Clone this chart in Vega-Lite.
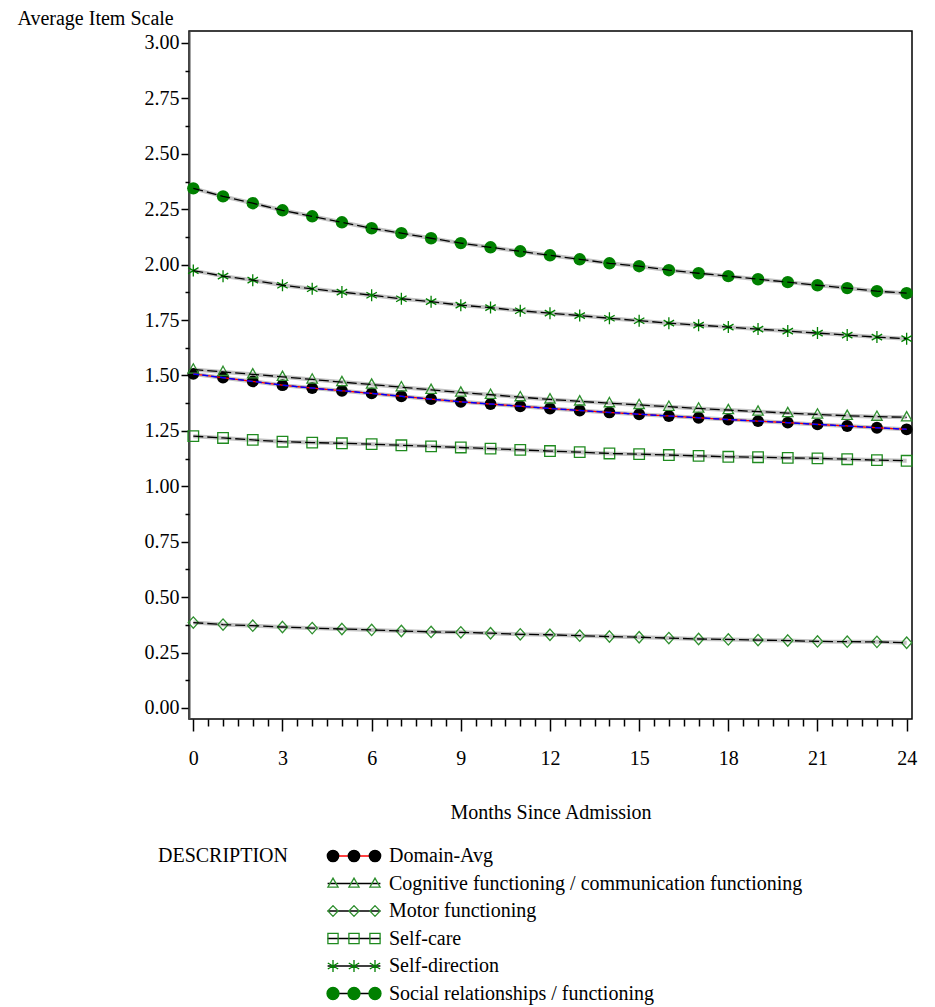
{
  "$schema": "https://vega.github.io/schema/vega-lite/v6.json",
  "width": 723,
  "height": 688,
  "autosize": {"type": "none"},
  "padding": {"left": 189, "top": 31, "right": 23, "bottom": 288},
  "background": "white",
  "config": {
    "font": "Liberation Serif",
    "view": {"stroke": "#000000", "strokeWidth": 1.5},
    "axis": {
      "labelFont": "Liberation Serif",
      "labelFontSize": 20,
      "labelColor": "#000000",
      "titleFont": "Liberation Serif",
      "titleFontSize": 20,
      "titleFontWeight": "normal",
      "titleColor": "#000000",
      "tickColor": "#000000",
      "tickWidth": 1.5,
      "grid": false
    },
    "legend": {
      "labelFont": "Liberation Serif",
      "labelFontSize": 20,
      "labelColor": "#000000",
      "titleFont": "Liberation Serif",
      "titleFontSize": 20,
      "titleFontWeight": "normal",
      "titleColor": "#000000",
      "labelLimit": 600
    }
  },
  "data": {
    "values": [
      {"series": "Domain-Avg", "month": 0, "value": 1.507},
      {"series": "Domain-Avg", "month": 1, "value": 1.490},
      {"series": "Domain-Avg", "month": 2, "value": 1.473},
      {"series": "Domain-Avg", "month": 3, "value": 1.456},
      {"series": "Domain-Avg", "month": 4, "value": 1.443},
      {"series": "Domain-Avg", "month": 5, "value": 1.431},
      {"series": "Domain-Avg", "month": 6, "value": 1.419},
      {"series": "Domain-Avg", "month": 7, "value": 1.406},
      {"series": "Domain-Avg", "month": 8, "value": 1.393},
      {"series": "Domain-Avg", "month": 9, "value": 1.381},
      {"series": "Domain-Avg", "month": 10, "value": 1.371},
      {"series": "Domain-Avg", "month": 11, "value": 1.361},
      {"series": "Domain-Avg", "month": 12, "value": 1.351},
      {"series": "Domain-Avg", "month": 13, "value": 1.342},
      {"series": "Domain-Avg", "month": 14, "value": 1.333},
      {"series": "Domain-Avg", "month": 15, "value": 1.325},
      {"series": "Domain-Avg", "month": 16, "value": 1.317},
      {"series": "Domain-Avg", "month": 17, "value": 1.309},
      {"series": "Domain-Avg", "month": 18, "value": 1.301},
      {"series": "Domain-Avg", "month": 19, "value": 1.294},
      {"series": "Domain-Avg", "month": 20, "value": 1.287},
      {"series": "Domain-Avg", "month": 21, "value": 1.279},
      {"series": "Domain-Avg", "month": 22, "value": 1.272},
      {"series": "Domain-Avg", "month": 23, "value": 1.264},
      {"series": "Domain-Avg", "month": 24, "value": 1.257},
      {"series": "Cognitive functioning / communication functioning", "month": 0, "value": 1.527},
      {"series": "Cognitive functioning / communication functioning", "month": 1, "value": 1.516},
      {"series": "Cognitive functioning / communication functioning", "month": 2, "value": 1.505},
      {"series": "Cognitive functioning / communication functioning", "month": 3, "value": 1.494},
      {"series": "Cognitive functioning / communication functioning", "month": 4, "value": 1.482},
      {"series": "Cognitive functioning / communication functioning", "month": 5, "value": 1.470},
      {"series": "Cognitive functioning / communication functioning", "month": 6, "value": 1.459},
      {"series": "Cognitive functioning / communication functioning", "month": 7, "value": 1.447},
      {"series": "Cognitive functioning / communication functioning", "month": 8, "value": 1.435},
      {"series": "Cognitive functioning / communication functioning", "month": 9, "value": 1.423},
      {"series": "Cognitive functioning / communication functioning", "month": 10, "value": 1.413},
      {"series": "Cognitive functioning / communication functioning", "month": 11, "value": 1.402},
      {"series": "Cognitive functioning / communication functioning", "month": 12, "value": 1.392},
      {"series": "Cognitive functioning / communication functioning", "month": 13, "value": 1.383},
      {"series": "Cognitive functioning / communication functioning", "month": 14, "value": 1.375},
      {"series": "Cognitive functioning / communication functioning", "month": 15, "value": 1.367},
      {"series": "Cognitive functioning / communication functioning", "month": 16, "value": 1.359},
      {"series": "Cognitive functioning / communication functioning", "month": 17, "value": 1.351},
      {"series": "Cognitive functioning / communication functioning", "month": 18, "value": 1.344},
      {"series": "Cognitive functioning / communication functioning", "month": 19, "value": 1.337},
      {"series": "Cognitive functioning / communication functioning", "month": 20, "value": 1.330},
      {"series": "Cognitive functioning / communication functioning", "month": 21, "value": 1.324},
      {"series": "Cognitive functioning / communication functioning", "month": 22, "value": 1.318},
      {"series": "Cognitive functioning / communication functioning", "month": 23, "value": 1.314},
      {"series": "Cognitive functioning / communication functioning", "month": 24, "value": 1.311},
      {"series": "Motor functioning", "month": 0, "value": 0.385},
      {"series": "Motor functioning", "month": 1, "value": 0.376},
      {"series": "Motor functioning", "month": 2, "value": 0.371},
      {"series": "Motor functioning", "month": 3, "value": 0.365},
      {"series": "Motor functioning", "month": 4, "value": 0.360},
      {"series": "Motor functioning", "month": 5, "value": 0.356},
      {"series": "Motor functioning", "month": 6, "value": 0.352},
      {"series": "Motor functioning", "month": 7, "value": 0.347},
      {"series": "Motor functioning", "month": 8, "value": 0.343},
      {"series": "Motor functioning", "month": 9, "value": 0.341},
      {"series": "Motor functioning", "month": 10, "value": 0.337},
      {"series": "Motor functioning", "month": 11, "value": 0.332},
      {"series": "Motor functioning", "month": 12, "value": 0.330},
      {"series": "Motor functioning", "month": 13, "value": 0.326},
      {"series": "Motor functioning", "month": 14, "value": 0.322},
      {"series": "Motor functioning", "month": 15, "value": 0.319},
      {"series": "Motor functioning", "month": 16, "value": 0.315},
      {"series": "Motor functioning", "month": 17, "value": 0.311},
      {"series": "Motor functioning", "month": 18, "value": 0.309},
      {"series": "Motor functioning", "month": 19, "value": 0.306},
      {"series": "Motor functioning", "month": 20, "value": 0.304},
      {"series": "Motor functioning", "month": 21, "value": 0.300},
      {"series": "Motor functioning", "month": 22, "value": 0.299},
      {"series": "Motor functioning", "month": 23, "value": 0.298},
      {"series": "Motor functioning", "month": 24, "value": 0.294},
      {"series": "Self-care", "month": 0, "value": 1.226},
      {"series": "Self-care", "month": 1, "value": 1.218},
      {"series": "Self-care", "month": 2, "value": 1.209},
      {"series": "Self-care", "month": 3, "value": 1.201},
      {"series": "Self-care", "month": 4, "value": 1.197},
      {"series": "Self-care", "month": 5, "value": 1.194},
      {"series": "Self-care", "month": 6, "value": 1.190},
      {"series": "Self-care", "month": 7, "value": 1.185},
      {"series": "Self-care", "month": 8, "value": 1.180},
      {"series": "Self-care", "month": 9, "value": 1.175},
      {"series": "Self-care", "month": 10, "value": 1.170},
      {"series": "Self-care", "month": 11, "value": 1.164},
      {"series": "Self-care", "month": 12, "value": 1.159},
      {"series": "Self-care", "month": 13, "value": 1.154},
      {"series": "Self-care", "month": 14, "value": 1.148},
      {"series": "Self-care", "month": 15, "value": 1.145},
      {"series": "Self-care", "month": 16, "value": 1.141},
      {"series": "Self-care", "month": 17, "value": 1.137},
      {"series": "Self-care", "month": 18, "value": 1.133},
      {"series": "Self-care", "month": 19, "value": 1.131},
      {"series": "Self-care", "month": 20, "value": 1.128},
      {"series": "Self-care", "month": 21, "value": 1.126},
      {"series": "Self-care", "month": 22, "value": 1.122},
      {"series": "Self-care", "month": 23, "value": 1.118},
      {"series": "Self-care", "month": 24, "value": 1.115},
      {"series": "Self-direction", "month": 0, "value": 1.973},
      {"series": "Self-direction", "month": 1, "value": 1.948},
      {"series": "Self-direction", "month": 2, "value": 1.930},
      {"series": "Self-direction", "month": 3, "value": 1.907},
      {"series": "Self-direction", "month": 4, "value": 1.891},
      {"series": "Self-direction", "month": 5, "value": 1.876},
      {"series": "Self-direction", "month": 6, "value": 1.862},
      {"series": "Self-direction", "month": 7, "value": 1.846},
      {"series": "Self-direction", "month": 8, "value": 1.833},
      {"series": "Self-direction", "month": 9, "value": 1.817},
      {"series": "Self-direction", "month": 10, "value": 1.806},
      {"series": "Self-direction", "month": 11, "value": 1.792},
      {"series": "Self-direction", "month": 12, "value": 1.781},
      {"series": "Self-direction", "month": 13, "value": 1.770},
      {"series": "Self-direction", "month": 14, "value": 1.758},
      {"series": "Self-direction", "month": 15, "value": 1.747},
      {"series": "Self-direction", "month": 16, "value": 1.736},
      {"series": "Self-direction", "month": 17, "value": 1.727},
      {"series": "Self-direction", "month": 18, "value": 1.718},
      {"series": "Self-direction", "month": 19, "value": 1.709},
      {"series": "Self-direction", "month": 20, "value": 1.700},
      {"series": "Self-direction", "month": 21, "value": 1.691},
      {"series": "Self-direction", "month": 22, "value": 1.682},
      {"series": "Self-direction", "month": 23, "value": 1.673},
      {"series": "Self-direction", "month": 24, "value": 1.666},
      {"series": "Social relationships / functioning", "month": 0, "value": 2.344},
      {"series": "Social relationships / functioning", "month": 1, "value": 2.308},
      {"series": "Social relationships / functioning", "month": 2, "value": 2.277},
      {"series": "Social relationships / functioning", "month": 3, "value": 2.245},
      {"series": "Social relationships / functioning", "month": 4, "value": 2.218},
      {"series": "Social relationships / functioning", "month": 5, "value": 2.191},
      {"series": "Social relationships / functioning", "month": 6, "value": 2.164},
      {"series": "Social relationships / functioning", "month": 7, "value": 2.142},
      {"series": "Social relationships / functioning", "month": 8, "value": 2.119},
      {"series": "Social relationships / functioning", "month": 9, "value": 2.097},
      {"series": "Social relationships / functioning", "month": 10, "value": 2.078},
      {"series": "Social relationships / functioning", "month": 11, "value": 2.060},
      {"series": "Social relationships / functioning", "month": 12, "value": 2.042},
      {"series": "Social relationships / functioning", "month": 13, "value": 2.024},
      {"series": "Social relationships / functioning", "month": 14, "value": 2.006},
      {"series": "Social relationships / functioning", "month": 15, "value": 1.993},
      {"series": "Social relationships / functioning", "month": 16, "value": 1.975},
      {"series": "Social relationships / functioning", "month": 17, "value": 1.961},
      {"series": "Social relationships / functioning", "month": 18, "value": 1.948},
      {"series": "Social relationships / functioning", "month": 19, "value": 1.934},
      {"series": "Social relationships / functioning", "month": 20, "value": 1.921},
      {"series": "Social relationships / functioning", "month": 21, "value": 1.907},
      {"series": "Social relationships / functioning", "month": 22, "value": 1.894},
      {"series": "Social relationships / functioning", "month": 23, "value": 1.880},
      {"series": "Social relationships / functioning", "month": 24, "value": 1.871}
    ]
  },
  "resolve": {"axis": {"x": "independent", "y": "independent"}},
  "layer": [
    {
      "mark": {"type": "line", "stroke": "#c2c2c2", "strokeWidth": 4},
      "encoding": {
        "x": {
          "field": "month", "type": "quantitative",
          "scale": {"domain": [-0.145, 24.18], "nice": false, "zero": false},
          "axis": {
            "values": [0, 3, 6, 9, 12, 15, 18, 21, 24],
            "format": "d",
            "tickSize": 12,
            "labelPadding": 17,
            "domain": false,
            "title": "Months Since Admission",
            "titleY": 93,
            "titleBaseline": "middle"
          }
        },
        "y": {
          "field": "value", "type": "quantitative",
          "scale": {"domain": [-0.05, 3.054], "nice": false, "zero": false},
          "axis": {
            "values": [0, 0.25, 0.5, 0.75, 1, 1.25, 1.5, 1.75, 2, 2.25, 2.5, 2.75, 3],
            "format": ".2f",
            "tickSize": 8,
            "labelPadding": 2,
            "domain": true,
            "domainColor": "#4a4a4a",
            "domainWidth": 2,
            "title": "Average Item Scale",
            "titleAngle": 0,
            "titleAlign": "left",
            "titleBaseline": "middle",
            "titleX": -172,
            "titleY": -13
          }
        },
        "detail": {"field": "series", "type": "nominal"}
      }
    },
    {
      "transform": [{"filter": "datum.series === 'Domain-Avg'"}],
      "mark": {"type": "point", "shape": "circle", "filled": true, "fill": "#000000", "size": 140, "opacity": 1},
      "encoding": {
        "x": {
          "field": "month", "type": "quantitative",
          "axis": {
            "orient": "bottom",
            "values": [0.5, 1, 1.5, 2, 2.5, 3.5, 4, 4.5, 5, 5.5, 6.5, 7, 7.5, 8, 8.5, 9.5, 10, 10.5, 11, 11.5, 12.5, 13, 13.5, 14, 14.5, 15.5, 16, 16.5, 17, 17.5, 18.5, 19, 19.5, 20, 20.5, 21.5, 22, 22.5, 23, 23.5],
            "tickSize": 7,
            "labels": false,
            "domain": false,
            "title": null
          }
        },
        "y": {
          "field": "value", "type": "quantitative",
          "axis": {
            "orient": "left",
            "values": [0.125, 0.375, 0.625, 0.875, 1.125, 1.375, 1.625, 1.875, 2.125, 2.375, 2.625, 2.875],
            "tickSize": 4,
            "labels": false,
            "domain": false,
            "title": null
          }
        }
      }
    },
    {
      "transform": [{"filter": "datum.series === 'Cognitive functioning / communication functioning'"}],
      "mark": {"type": "point", "shape": "M0,-0.95L0.87,0.6L-0.87,0.6Z", "filled": false, "stroke": "#2f8f2f", "strokeWidth": 1.3, "size": 144, "opacity": 1},
      "encoding": {
        "x": {"field": "month", "type": "quantitative", "axis": null},
        "y": {"field": "value", "type": "quantitative", "axis": null}
      }
    },
    {
      "transform": [{"filter": "datum.series === 'Motor functioning'"}],
      "mark": {"type": "point", "shape": "M0,-0.95L0.85,0L0,0.95L-0.85,0Z", "filled": false, "stroke": "#2f8f2f", "strokeWidth": 1.3, "size": 144, "opacity": 1},
      "encoding": {
        "x": {"field": "month", "type": "quantitative", "axis": null},
        "y": {"field": "value", "type": "quantitative", "axis": null}
      }
    },
    {
      "transform": [{"filter": "datum.series === 'Self-care'"}],
      "mark": {"type": "point", "shape": "M-0.88,-0.88H0.88V0.88H-0.88Z", "filled": false, "stroke": "#1f8a1f", "strokeWidth": 1.3, "size": 144, "opacity": 1},
      "encoding": {
        "x": {"field": "month", "type": "quantitative", "axis": null},
        "y": {"field": "value", "type": "quantitative", "axis": null}
      }
    },
    {
      "transform": [{"filter": "datum.series === 'Self-direction'"}],
      "mark": {"type": "point", "shape": "M0,-1V1M-0.87,-0.5L0.87,0.5M-0.87,0.5L0.87,-0.5", "filled": false, "stroke": "#008000", "strokeWidth": 1.3, "size": 144, "opacity": 1},
      "encoding": {
        "x": {"field": "month", "type": "quantitative", "axis": null},
        "y": {"field": "value", "type": "quantitative", "axis": null}
      }
    },
    {
      "transform": [{"filter": "datum.series === 'Social relationships / functioning'"}],
      "mark": {"type": "point", "shape": "circle", "filled": true, "fill": "#008000", "size": 155, "opacity": 1},
      "encoding": {
        "x": {"field": "month", "type": "quantitative", "axis": null},
        "y": {"field": "value", "type": "quantitative", "axis": null}
      }
    },
    {
      "mark": {"type": "line", "strokeWidth": 1.3},
      "encoding": {
        "x": {"field": "month", "type": "quantitative", "axis": null},
        "y": {"field": "value", "type": "quantitative", "axis": null},
        "color": {
          "field": "series", "type": "nominal",
          "sort": ["Domain-Avg", "Cognitive functioning / communication functioning", "Motor functioning", "Self-care", "Self-direction", "Social relationships / functioning"],
          "scale": {"range": ["#ff0000", "#000000", "#000000", "#000000", "#000000", "#000000"]},
          "legend": {
            "orient": "none",
            "legendX": -31,
            "legendY": 815,
            "title": "DESCRIPTION",
            "titleColor": "transparent",
            "titleOrient": "left",
            "titleAnchor": "start",
            "titlePadding": 55,
            "symbolType": "M-4.4,0L4.4,0",
            "symbolSize": 144,
            "symbolStrokeWidth": 1.5,
            "labelOffset": 25,
            "labelColor": "transparent",
            "rowPadding": 7.5
          }
        },
        "strokeDash": {
          "field": "series", "type": "nominal",
          "sort": ["Domain-Avg", "Cognitive functioning / communication functioning", "Motor functioning", "Self-care", "Self-direction", "Social relationships / functioning"],
          "scale": {"range": [[1, 0], [10, 4], [10, 4], [10, 4], [10, 4], [10, 4]]},
          "legend": null
        }
      }
    },
    {
      "transform": [{"filter": "datum.series === 'Domain-Avg'"}],
      "mark": {"type": "line", "stroke": "#0000ff", "strokeWidth": 1.5, "strokeDash": [6, 3]},
      "encoding": {
        "x": {"field": "month", "type": "quantitative", "axis": null},
        "y": {"field": "value", "type": "quantitative", "axis": null}
      }
    },
    {
      "transform": [{"filter": "false"}],
      "mark": {"type": "point", "strokeWidth": 1.3, "opacity": 1},
      "encoding": {
        "fill": {
          "field": "series", "type": "nominal",
          "scale": {
            "domain": ["Domain-Avg", "Cognitive functioning / communication functioning", "Motor functioning", "Self-care", "Self-direction", "Social relationships / functioning"],
            "range": ["#000000", "transparent", "transparent", "transparent", "transparent", "#008000"]
          },
          "legend": {
            "orient": "none",
            "legendX": -31,
            "legendY": 815,
            "title": "DESCRIPTION",
            "titleOrient": "left",
            "titleAnchor": "start",
            "titlePadding": 55,
            "symbolSize": 144,
            "symbolStrokeWidth": 1.3,
            "labelOffset": 25,
            "rowPadding": 7.5,
            "symbolType": {
              "expr": "datum.value === 'Domain-Avg' ? 'M-4.45,0A0.95,0.95,0,1,0,-2.55,0A0.95,0.95,0,1,0,-4.45,0ZM-0.95,0A0.95,0.95,0,1,0,0.95,0A0.95,0.95,0,1,0,-0.95,0ZM2.55,0A0.95,0.95,0,1,0,4.45,0A0.95,0.95,0,1,0,2.55,0Z' : datum.value === 'Cognitive functioning / communication functioning' ? 'M-3.5,-0.9L-2.65,0.6L-4.35,0.6ZM0,-0.9L0.85,0.6L-0.85,0.6ZM3.5,-0.9L4.35,0.6L2.65,0.6Z' : datum.value === 'Motor functioning' ? 'M-3.5,-0.9L-2.65,0L-3.5,0.9L-4.35,0ZM0,-0.9L0.85,0L0,0.9L-0.85,0ZM3.5,-0.9L4.35,0L3.5,0.9L2.65,0Z' : datum.value === 'Self-care' ? 'M-4.35,-0.85H-2.65V0.85H-4.35ZM-0.85,-0.85H0.85V0.85H-0.85ZM2.65,-0.85H4.35V0.85H2.65Z' : datum.value === 'Self-direction' ? 'M-3.5,-1V1M-4.37,-0.5L-2.63,0.5M-4.37,0.5L-2.63,-0.5M0,-1V1M-0.87,-0.5L0.87,0.5M-0.87,0.5L0.87,-0.5M3.5,-1V1M2.63,-0.5L4.37,0.5M2.63,0.5L4.37,-0.5' : 'M-4.5,0A1,1,0,1,0,-2.5,0A1,1,0,1,0,-4.5,0ZM-1,0A1,1,0,1,0,1,0A1,1,0,1,0,-1,0ZM2.5,0A1,1,0,1,0,4.5,0A1,1,0,1,0,2.5,0Z'"
            }
          }
        },
        "stroke": {
          "field": "series", "type": "nominal",
          "scale": {
            "domain": ["Domain-Avg", "Cognitive functioning / communication functioning", "Motor functioning", "Self-care", "Self-direction", "Social relationships / functioning"],
            "range": ["#000000", "#2f8f2f", "#2f8f2f", "#1f8a1f", "#008000", "#008000"]
          },
          "legend": {
            "orient": "none",
            "legendX": -31,
            "legendY": 815,
            "title": "DESCRIPTION",
            "titleOrient": "left",
            "titleAnchor": "start",
            "titlePadding": 55,
            "symbolSize": 144,
            "symbolStrokeWidth": 1.3,
            "labelOffset": 25,
            "rowPadding": 7.5,
            "symbolType": {
              "expr": "datum.value === 'Domain-Avg' ? 'M-4.45,0A0.95,0.95,0,1,0,-2.55,0A0.95,0.95,0,1,0,-4.45,0ZM-0.95,0A0.95,0.95,0,1,0,0.95,0A0.95,0.95,0,1,0,-0.95,0ZM2.55,0A0.95,0.95,0,1,0,4.45,0A0.95,0.95,0,1,0,2.55,0Z' : datum.value === 'Cognitive functioning / communication functioning' ? 'M-3.5,-0.9L-2.65,0.6L-4.35,0.6ZM0,-0.9L0.85,0.6L-0.85,0.6ZM3.5,-0.9L4.35,0.6L2.65,0.6Z' : datum.value === 'Motor functioning' ? 'M-3.5,-0.9L-2.65,0L-3.5,0.9L-4.35,0ZM0,-0.9L0.85,0L0,0.9L-0.85,0ZM3.5,-0.9L4.35,0L3.5,0.9L2.65,0Z' : datum.value === 'Self-care' ? 'M-4.35,-0.85H-2.65V0.85H-4.35ZM-0.85,-0.85H0.85V0.85H-0.85ZM2.65,-0.85H4.35V0.85H2.65Z' : datum.value === 'Self-direction' ? 'M-3.5,-1V1M-4.37,-0.5L-2.63,0.5M-4.37,0.5L-2.63,-0.5M0,-1V1M-0.87,-0.5L0.87,0.5M-0.87,0.5L0.87,-0.5M3.5,-1V1M2.63,-0.5L4.37,0.5M2.63,0.5L4.37,-0.5' : 'M-4.5,0A1,1,0,1,0,-2.5,0A1,1,0,1,0,-4.5,0ZM-1,0A1,1,0,1,0,1,0A1,1,0,1,0,-1,0ZM2.5,0A1,1,0,1,0,4.5,0A1,1,0,1,0,2.5,0Z'"
            }
          }
        }
      }
    }
  ]
}
